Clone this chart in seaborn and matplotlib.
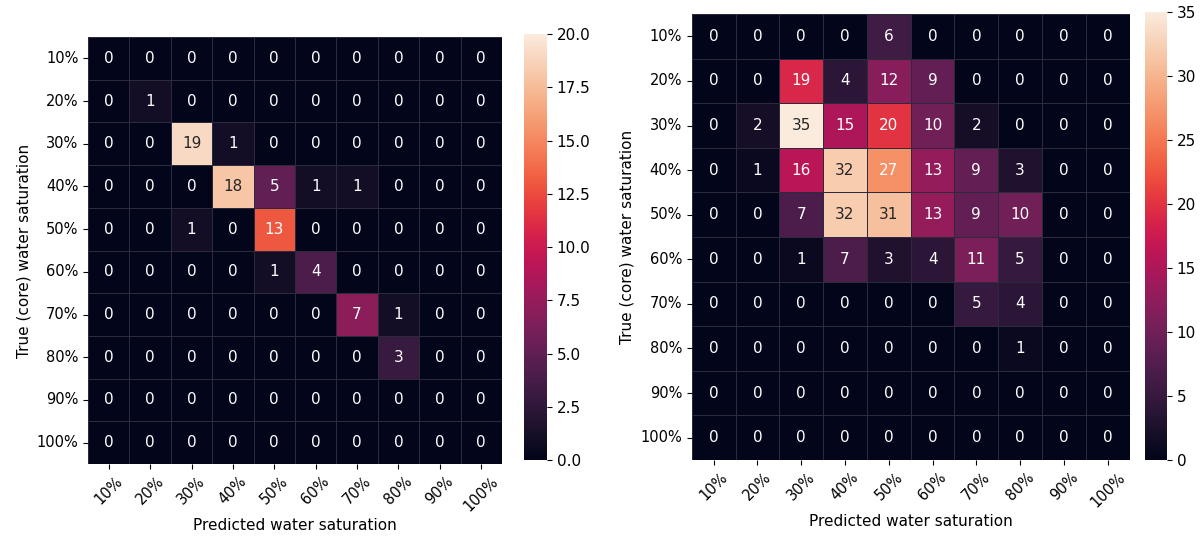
import numpy as np
import pandas as pd
import matplotlib
matplotlib.use("Agg")
import matplotlib.pyplot as plt
import seaborn as sns

labels = ["10%", "20%", "30%", "40%", "50%", "60%", "70%", "80%", "90%", "100%"]

left_values = [
    [0, 0, 0, 0, 0, 0, 0, 0, 0, 0],
    [0, 1, 0, 0, 0, 0, 0, 0, 0, 0],
    [0, 0, 19, 1, 0, 0, 0, 0, 0, 0],
    [0, 0, 0, 18, 5, 1, 1, 0, 0, 0],
    [0, 0, 1, 0, 13, 0, 0, 0, 0, 0],
    [0, 0, 0, 0, 1, 4, 0, 0, 0, 0],
    [0, 0, 0, 0, 0, 0, 7, 1, 0, 0],
    [0, 0, 0, 0, 0, 0, 0, 3, 0, 0],
    [0, 0, 0, 0, 0, 0, 0, 0, 0, 0],
    [0, 0, 0, 0, 0, 0, 0, 0, 0, 0],
]

right_values = [
    [0, 0, 0, 0, 6, 0, 0, 0, 0, 0],
    [0, 0, 19, 4, 12, 9, 0, 0, 0, 0],
    [0, 2, 35, 15, 20, 10, 2, 0, 0, 0],
    [0, 1, 16, 32, 27, 13, 9, 3, 0, 0],
    [0, 0, 7, 32, 31, 13, 9, 10, 0, 0],
    [0, 0, 1, 7, 3, 4, 11, 5, 0, 0],
    [0, 0, 0, 0, 0, 0, 5, 4, 0, 0],
    [0, 0, 0, 0, 0, 0, 0, 1, 0, 0],
    [0, 0, 0, 0, 0, 0, 0, 0, 0, 0],
    [0, 0, 0, 0, 0, 0, 0, 0, 0, 0],
]

xlabel = "Predicted water saturation"
ylabel = "True (core) water saturation"

plt.rcParams['font.family'] = ['DejaVu Sans']
fig = plt.figure(figsize=(12.03, 5.37), dpi=100)

ax1 = fig.add_axes([0.0732, 0.136, 0.344, 0.795])
cax1 = fig.add_axes([0.4356, 0.1434, 0.019, 0.793])
ax2 = fig.add_axes([0.575, 0.1434, 0.364, 0.8305])
cax2 = fig.add_axes([0.952, 0.1434, 0.018, 0.834])

df1 = pd.DataFrame(left_values, index=labels, columns=labels)
df2 = pd.DataFrame(right_values, index=labels, columns=labels)

common = dict(annot=True, fmt="d", linewidths=0.5, linecolor="#2b2b3c",
              annot_kws={"fontsize": 11})
sns.heatmap(df1, ax=ax1, cbar_ax=cax1, vmin=0, vmax=20, **common)
sns.heatmap(df2, ax=ax2, cbar_ax=cax2, vmin=0, vmax=35, **common)

for ax in (ax1, ax2):
    ax.set_xlabel(xlabel, fontsize=11, labelpad=3)
    ax.set_ylabel(ylabel, fontsize=11)
    ax.set_xticklabels(labels, rotation=45, fontsize=10.5)
    ax.set_yticklabels(labels, rotation=0, fontsize=10.5)
for cax in (cax1, cax2):
    cax.tick_params(labelsize=11)

fig.savefig("out.png", dpi=100)
